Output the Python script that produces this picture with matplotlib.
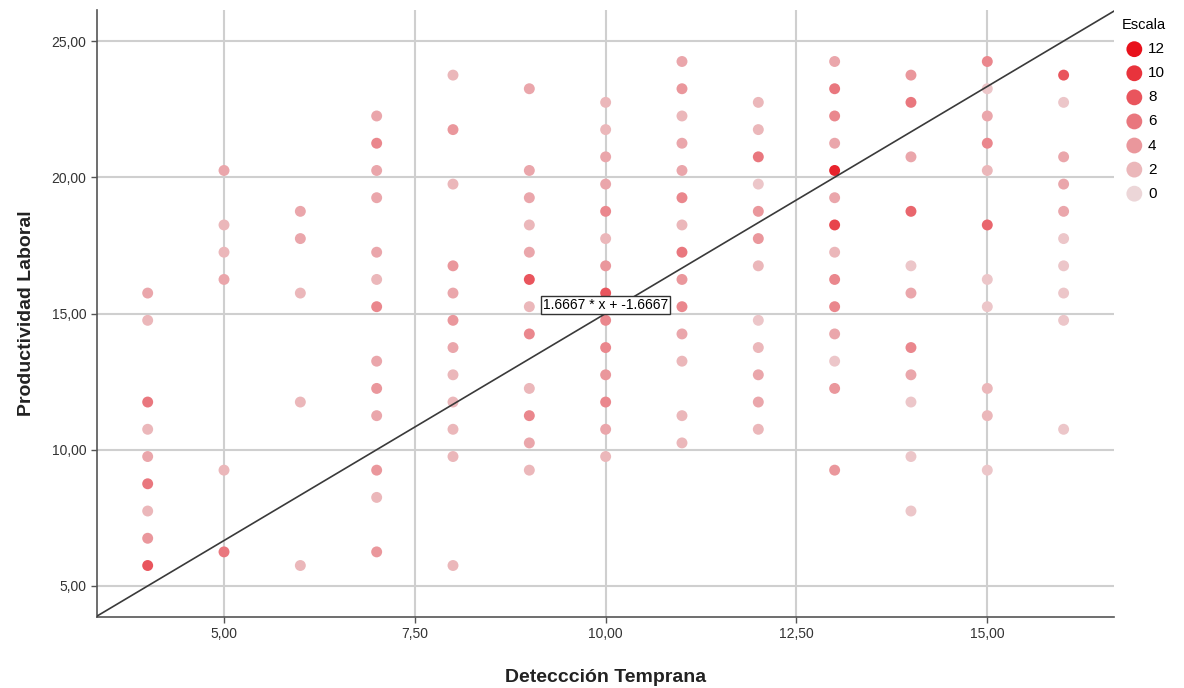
import matplotlib
matplotlib.use("Agg")
import matplotlib.pyplot as plt
import numpy as np
from matplotlib.colors import LinearSegmentedColormap

plt.rcParams['font.family'] = ['Liberation Sans', 'DejaVu Sans']

# ---- data: x column, y values, count (Escala) per point ----
x_cols = [4, 5, 6, 7, 8, 9, 10, 11, 12, 13, 14, 15, 16]

col4_y = [15.75, 14.75, 11.75, 10.75, 9.75, 8.75, 7.75, 6.75, 5.75]
col4_n = [3, 2, 6, 2, 3, 6, 2, 4, 8]
col5_y = [20.25, 18.25, 17.25, 16.25, 9.25, 6.25]
col5_n = [3, 2, 2, 3, 2, 6]
col6_y = [18.75, 17.75, 15.75, 11.75, 5.75]
col6_n = [3, 3, 2, 2, 2]
col7_y = [22.25, 21.25, 20.25, 19.25, 17.25, 16.25, 15.25, 13.25, 12.25, 11.25, 9.25, 8.25, 6.25]
col7_n = [3, 5, 3, 3, 3, 2, 5, 3, 4, 3, 4, 2, 4]
col8_y = [23.75, 21.75, 19.75, 16.75, 15.75, 14.75, 13.75, 12.75, 11.75, 10.75, 9.75, 5.75]
col8_n = [2, 4, 2, 4, 3, 4, 3, 2, 2, 2, 2, 2]
col9_y = [23.25, 20.25, 19.25, 18.25, 17.25, 16.25, 15.25, 14.25, 12.25, 11.25, 10.25, 9.25]
col9_n = [3, 3, 3, 2, 3, 8, 2, 5, 2, 5, 3, 2]
col10_y = [22.75, 21.75, 20.75, 19.75, 18.75, 17.75, 16.75, 15.75, 14.75, 13.75, 12.75, 11.75, 10.75, 9.75]
col10_n = [2, 2, 3, 3, 5, 2, 4, 8, 5, 5, 4, 5, 3, 2]
col11_y = [24.25, 23.25, 22.25, 21.25, 20.25, 19.25, 18.25, 17.25, 16.25, 15.25, 14.25, 13.25, 11.25, 10.25]
col11_n = [3, 4, 2, 3, 3, 5, 2, 6, 4, 5, 3, 2, 2, 2]
col12_y = [22.75, 21.75, 20.75, 19.75, 18.75, 17.75, 16.75, 14.75, 13.75, 12.75, 11.75, 10.75]
col12_n = [2, 2, 6, 1, 4, 4, 2, 1, 2, 3, 3, 2]
col13_y = [24.25, 23.25, 22.25, 21.25, 20.25, 19.25, 18.25, 17.25, 16.25, 15.25, 14.25, 13.25, 12.25, 9.25]
col13_n = [3, 6, 5, 3, 11, 3, 9, 2, 5, 5, 3, 1, 4, 4]
col14_y = [23.75, 22.75, 20.75, 18.75, 16.75, 15.75, 13.75, 12.75, 11.75, 9.75, 7.75]
col14_n = [4, 6, 3, 7, 1, 3, 5, 3, 1, 1, 1]
col15_y = [24.25, 23.25, 22.25, 21.25, 20.25, 18.25, 16.25, 15.25, 12.25, 11.25, 9.25]
col15_n = [5, 1, 3, 5, 2, 7, 1, 1, 2, 2, 1]
col16_y = [23.75, 22.75, 20.75, 19.75, 18.75, 17.75, 16.75, 15.75, 14.75, 10.75]
col16_n = [8, 1, 3, 3, 3, 1, 1, 1, 1, 1]

col_y = [col4_y, col5_y, col6_y, col7_y, col8_y, col9_y, col10_y, col11_y,
         col12_y, col13_y, col14_y, col15_y, col16_y]
col_n = [col4_n, col5_n, col6_n, col7_n, col8_n, col9_n, col10_n, col11_n,
         col12_n, col13_n, col14_n, col15_n, col16_n]

fit_slope = 1.6667
fit_intercept = -1.6667
legend_levels = [12, 10, 8, 6, 4, 2, 0]
x_ticks = [5.0, 7.5, 10.0, 12.5, 15.0]
y_ticks = [5.0, 10.0, 15.0, 20.0, 25.0]

# ---- figure ----
fig = plt.figure(figsize=(11.84, 6.88), dpi=100)
ax = fig.add_axes([97/1184, 1 - 617/688, (1114-97)/1184, (617-10)/688])

cmap = LinearSegmentedColormap.from_list('escala', ['#ecd6d8', '#e9777e', '#e8121c'])
norm = plt.Normalize(0, 12)

xs, ys, ns = [], [], []
for xv, yl, nl in zip(x_cols, col_y, col_n):
    xs += [xv] * len(yl)
    ys += yl
    ns += nl
ax.scatter(xs, ys, c=ns, cmap=cmap, norm=norm, s=62, edgecolors='none', zorder=3)

xlim = (3.336, 16.66)
ylim = (3.86, 26.14)
ax.set_xlim(*xlim)
ax.set_ylim(*ylim)

lx = np.array(xlim)
ax.plot(lx, fit_slope * lx + fit_intercept, color='#3a3a3a', lw=1.2, zorder=4)
ax.text(10.0, 15.05, f"{fit_slope} * x + {fit_intercept}", ha='center', va='bottom',
        fontsize=10, color='black', zorder=5,
        bbox=dict(boxstyle='square,pad=0.15', fc='white', ec='#333333', lw=1.0))

ax.set_xticks(x_ticks)
ax.set_yticks(y_ticks)
ax.set_xticklabels([f"{v:.2f}".replace('.', ',') for v in x_ticks])
ax.set_yticklabels([f"{v:.2f}".replace('.', ',') for v in y_ticks])
ax.tick_params(axis='both', labelsize=10, colors='#555555', labelcolor='#333333',
               length=4, width=1)
ax.grid(True, color='#cfcfcf', lw=1.5, zorder=0)
ax.set_axisbelow(True)

for s in ['top', 'right']:
    ax.spines[s].set_visible(False)
for s in ['left', 'bottom']:
    ax.spines[s].set_color('#555555')
    ax.spines[s].set_linewidth(1.2)

ax.set_xlabel('Deteccción Temprana', fontsize=14, fontweight='bold', labelpad=20, color='#222222')
ax.set_ylabel('Productividad Laboral', fontsize=14, fontweight='bold', labelpad=12, color='#222222')

handles = [ax.scatter([], [], c=[[*cmap(norm(l))]], s=130, edgecolors='none') for l in legend_levels]
leg = fig.legend(handles, [str(l) for l in legend_levels], title='Escala',
                 loc='upper left', bbox_to_anchor=(1116/1184, 1 - 12/688),
                 frameon=False, fontsize=11, title_fontsize=10.5,
                 labelspacing=0.66, handletextpad=0.1, handlelength=1.6,
                 borderaxespad=0, alignment='left')

fig.savefig('out.png', dpi=100, facecolor='white')
